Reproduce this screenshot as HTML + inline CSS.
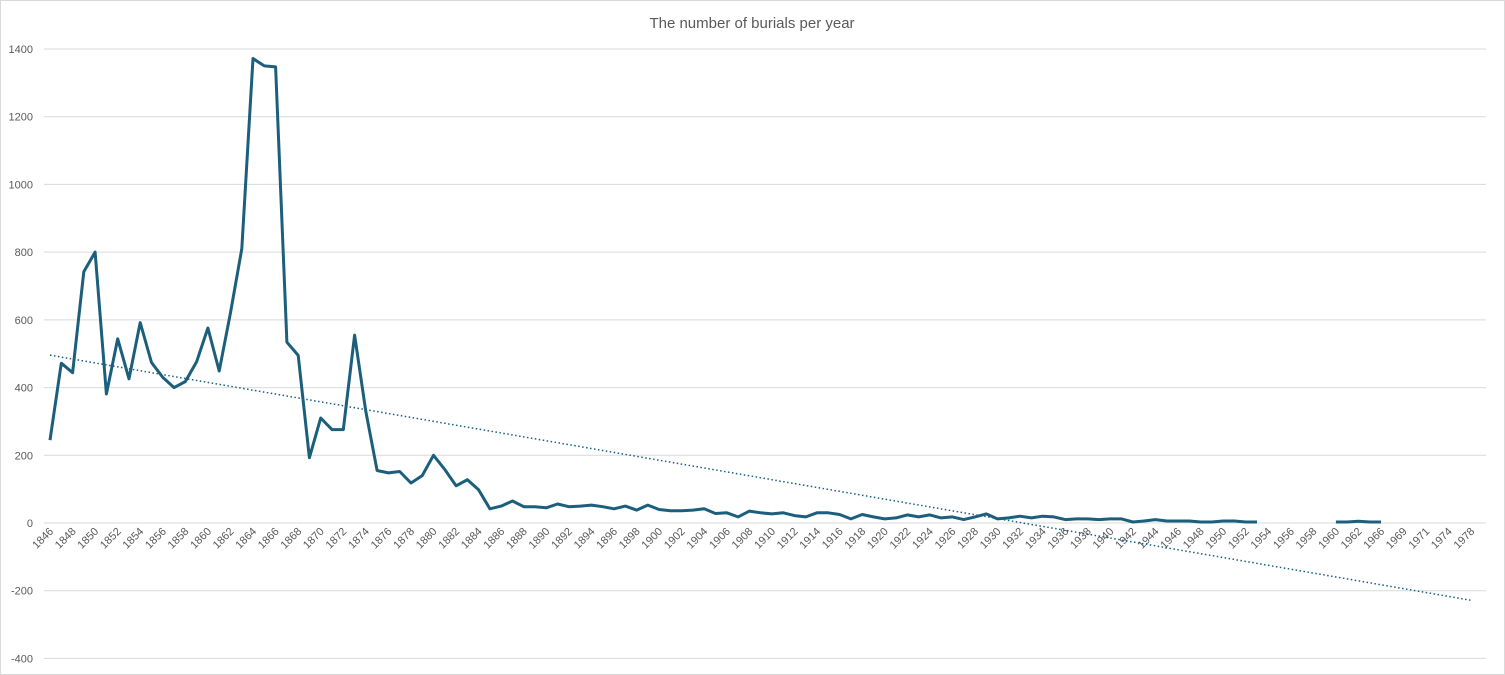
<!DOCTYPE html>
<html><head><meta charset="utf-8"><style>
body{margin:0;background:#fff;}
svg{display:block;font-family:"Liberation Sans",sans-serif;}
</style></head><body>
<svg id="chart" width="1505" height="675">
<rect x="0.5" y="0.5" width="1504" height="674" fill="#fff" stroke="#d9d9d9"/>
<text x="752" y="28" text-anchor="middle" font-size="15" fill="#595959">The number of burials per year</text>
<g id="grid"></g><g id="ylabels"></g><g id="xlabels"></g><g id="series"></g>
</svg>
<script>
const categories=[];
for(let y=1846;y<=1962;y++)categories.push(String(y));
categories.push("1964","1966","1967","1969","1970","1971","1973","1974","1976","1978");
const burials=[245,472,444,742,800,381,544,426,592,474,430,400,418,476,576,449,621,810,1372,1350,1347,534,495,193,310,276,276,555,330,
155,148,152,118,140,200,158,110,128,98,42,50,65,48,48,45,56,48,50,53,48,42,50,38,53,40,36,36,38,42,28,30,18,35,30,27,30,22,18,30,30,25,12,25,18,12,15,24,18,24,15,18,10,18,27,12,15,20,15,20,18,10,12,12,10,12,12,3,6,10,6,6,6,3,3,6,6,3,3,
null,null,null,null,null,null,3,3,5,3,3,null,null,null,null,null,null,null,null];
const yTicks=[-400,-200,0,200,400,600,800,1000,1200,1400];
const NS="http://www.w3.org/2000/svg";
const x0=50,dx=11.28,y0=523,py=474/1400;
const X=i=>x0+i*dx, Y=v=>y0-v*py;
function mk(t,a,p){const e=document.createElementNS(NS,t);for(const k in a)e.setAttribute(k,a[k]);p.appendChild(e);return e;}
const grid=document.getElementById('grid'),yl=document.getElementById('ylabels'),xl=document.getElementById('xlabels'),ser=document.getElementById('series');
yTicks.forEach(v=>{
 const l=mk('line',{x1:44,x2:1486,y1:Y(v),y2:Y(v),stroke:'#d9d9d9','stroke-width':1},grid);
 
 
 const t=mk('text',{x:33,y:Y(v)+4,'text-anchor':'end','font-size':11,fill:'#595959'},yl);
 t.textContent=v;
 
 
});
categories.forEach((c,i)=>{
 if(i%2)return;
 const t=mk('text',{x:X(i)+4,y:532,'text-anchor':'end','font-size':11,fill:'#595959',transform:`rotate(-45 ${X(i)+4} 532)`},xl);
 t.textContent=c;
 
 
});
let n=0,sx=0,sy=0,sxx=0,sxy=0;
burials.forEach((v,i)=>{if(v==null)return;n++;sx+=i;sy+=v;sxx+=i*i;sxy+=i*v;});
const b=(n*sxy-sx*sy)/(n*sxx-sx*sx),a=(sy-b*sx)/n,last=categories.length-1;
const tr=mk('line',{x1:X(0),y1:Y(a),x2:X(last),y2:Y(a+b*last),stroke:'#156082','stroke-width':1.5,'stroke-dasharray':'1.5 2.5'},ser);


let d='',pen=false;
burials.forEach((v,i)=>{if(v==null){pen=false;return;}d+=(pen?'L':'M')+X(i).toFixed(1)+' '+Y(v).toFixed(1)+' ';pen=true;});
const p=mk('path',{d:d,fill:'none',stroke:'#1b5f7c','stroke-width':3,'stroke-linejoin':'round'},ser);


</script>
</body></html>
